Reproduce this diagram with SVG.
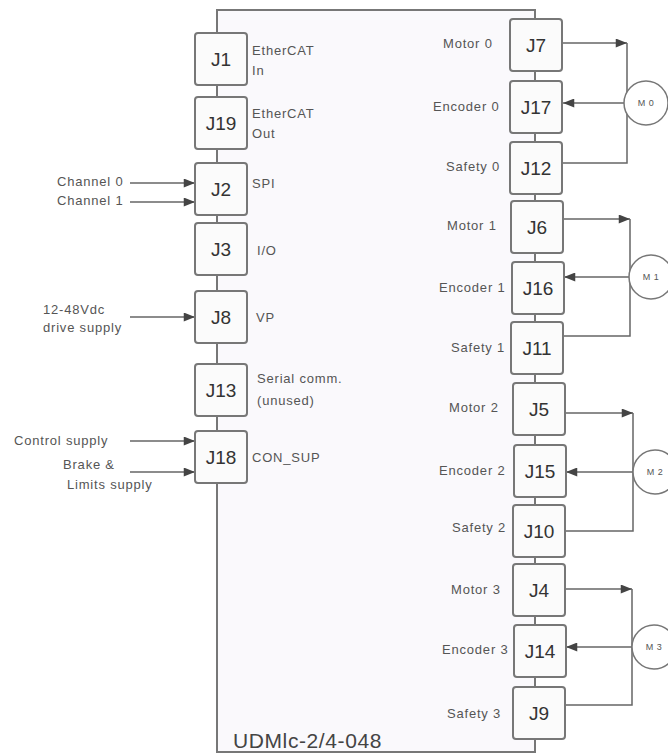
<svg xmlns="http://www.w3.org/2000/svg" width="668" height="755" viewBox="0 0 668 755">
<defs>
<marker id="ah" viewBox="0 0 10 8" refX="10" refY="4" markerWidth="12" markerHeight="9" markerUnits="userSpaceOnUse" orient="auto">
<path d="M0,0 L10,4 L0,8 z" fill="#444"/>
</marker>
<style>
.box{fill:#fbfbfb;stroke:#777;stroke-width:2}
.jt{font-family:"Liberation Sans",Arial,sans-serif;font-size:19px;fill:#333;text-anchor:middle}
.lb{font-family:"Liberation Sans",Arial,sans-serif;font-size:13px;letter-spacing:0.8px;fill:#555}
.mt{font-family:"Liberation Sans",Arial,sans-serif;font-size:9px;letter-spacing:0.5px;fill:#555;text-anchor:middle}
.ln{stroke:#666;stroke-width:1.5;fill:none}
.ar{stroke:#666;stroke-width:1.5;fill:none;marker-end:url(#ah)}
.mc{fill:#fff;stroke:#777;stroke-width:1.5}
</style>
</defs>
<rect width="668" height="755" fill="#fff"/>
<g id="board">
<rect x="217" y="10" width="318" height="742" fill="#faf9fc" stroke="#777" stroke-width="2"/>
<text x="233" y="748" font-family="Liberation Sans, Arial, sans-serif" font-size="21" letter-spacing="0.6" fill="#444">UDMlc-2/4-048</text>
</g>
<g id="connectors">
<line class="ar" x1="130" y1="183" x2="195" y2="183"/>
<line class="ar" x1="130" y1="202" x2="195" y2="202"/>
<line class="ar" x1="130" y1="317" x2="195" y2="317"/>
<line class="ar" x1="130" y1="441" x2="195" y2="441"/>
<line class="ar" x1="130" y1="472" x2="195" y2="472"/>
<line class="ar" x1="562" y1="43" x2="627" y2="43"/>
<line class="ar" x1="627" y1="103" x2="563" y2="103"/>
<polyline class="ln" points="562,163 627,163 627,43"/>
<line class="ar" x1="563" y1="219" x2="630" y2="219"/>
<line class="ar" x1="630" y1="277" x2="564" y2="277"/>
<polyline class="ln" points="563,336 630,336 630,219"/>
<line class="ar" x1="565" y1="413" x2="633" y2="413"/>
<line class="ar" x1="633" y1="472" x2="566" y2="472"/>
<polyline class="ln" points="565,531 633,531 633,413"/>
<line class="ar" x1="565" y1="589" x2="632" y2="589"/>
<line class="ar" x1="632" y1="647" x2="566" y2="647"/>
<polyline class="ln" points="565,705 632,705 632,589"/>
</g>
<g id="inputs-text">
<text class="lb" x="57" y="186">Channel 0</text>
<text class="lb" x="57" y="205">Channel 1</text>
<text class="lb" x="43" y="314">12-48Vdc</text>
<text class="lb" x="43" y="332">drive supply</text>
<text class="lb" x="14" y="445">Control supply</text>
<text class="lb" x="63" y="469">Brake &amp;</text>
<text class="lb" x="67" y="489">Limits supply</text>
</g>
<g id="J1"><rect class="box" x="195" y="33" width="52" height="52" rx="3"/><text class="jt" x="221" y="66">J1</text><text class="lb" x="252" y="55">EtherCAT</text><text class="lb" x="252" y="75">In</text></g>
<g id="J19"><rect class="box" x="195" y="97" width="52" height="52" rx="3"/><text class="jt" x="221" y="130">J19</text><text class="lb" x="252" y="118">EtherCAT</text><text class="lb" x="252" y="138">Out</text></g>
<g id="J2"><rect class="box" x="195" y="163" width="52" height="52" rx="3"/><text class="jt" x="221" y="196">J2</text><text class="lb" x="252" y="188">SPI</text></g>
<g id="J3"><rect class="box" x="195" y="223" width="52" height="52" rx="3"/><text class="jt" x="221" y="256">J3</text><text class="lb" x="257" y="255">I/O</text></g>
<g id="J8"><rect class="box" x="195" y="291" width="52" height="52" rx="3"/><text class="jt" x="221" y="324">J8</text><text class="lb" x="256" y="322">VP</text></g>
<g id="J13"><rect class="box" x="195" y="364" width="52" height="52" rx="3"/><text class="jt" x="221" y="397">J13</text><text class="lb" x="257" y="383">Serial comm.</text><text class="lb" x="257" y="405">(unused)</text></g>
<g id="J18"><rect class="box" x="195" y="431" width="52" height="52" rx="3"/><text class="jt" x="221" y="464">J18</text><text class="lb" x="252" y="462">CON_SUP</text></g>
<g id="J7"><rect class="box" x="510" y="19" width="52" height="52" rx="3"/><text class="jt" x="536" y="52">J7</text><text class="lb" x="443" y="48">Motor 0</text></g>
<g id="J17"><rect class="box" x="510" y="81" width="52" height="52" rx="3"/><text class="jt" x="536" y="114">J17</text><text class="lb" x="433" y="111">Encoder 0</text></g>
<g id="J12"><rect class="box" x="510" y="142" width="52" height="52" rx="3"/><text class="jt" x="536" y="175">J12</text><text class="lb" x="446" y="171">Safety 0</text></g>
<g id="J6"><rect class="box" x="511" y="201" width="52" height="52" rx="3"/><text class="jt" x="537" y="234">J6</text><text class="lb" x="447" y="230">Motor 1</text></g>
<g id="J16"><rect class="box" x="512" y="262" width="52" height="52" rx="3"/><text class="jt" x="538" y="295">J16</text><text class="lb" x="439" y="292">Encoder 1</text></g>
<g id="J11"><rect class="box" x="511" y="322" width="52" height="52" rx="3"/><text class="jt" x="537" y="355">J11</text><text class="lb" x="451" y="352">Safety 1</text></g>
<g id="J5"><rect class="box" x="513" y="383" width="52" height="52" rx="3"/><text class="jt" x="539" y="416">J5</text><text class="lb" x="449" y="412">Motor 2</text></g>
<g id="J15"><rect class="box" x="514" y="445" width="52" height="52" rx="3"/><text class="jt" x="540" y="478">J15</text><text class="lb" x="439" y="475">Encoder 2</text></g>
<g id="J10"><rect class="box" x="513" y="505" width="52" height="52" rx="3"/><text class="jt" x="539" y="538">J10</text><text class="lb" x="452" y="532">Safety 2</text></g>
<g id="J4"><rect class="box" x="513" y="564" width="52" height="52" rx="3"/><text class="jt" x="539" y="597">J4</text><text class="lb" x="451" y="594">Motor 3</text></g>
<g id="J14"><rect class="box" x="514" y="625" width="52" height="52" rx="3"/><text class="jt" x="540" y="658">J14</text><text class="lb" x="442" y="654">Encoder 3</text></g>
<g id="J9"><rect class="box" x="513" y="687" width="52" height="52" rx="3"/><text class="jt" x="539" y="720">J9</text><text class="lb" x="447" y="718">Safety 3</text></g>
<g id="M0"><circle class="mc" cx="646" cy="103" r="22"/><text class="mt" x="646" y="106">M 0</text></g>
<g id="M1"><circle class="mc" cx="651" cy="277" r="22"/><text class="mt" x="651" y="280">M 1</text></g>
<g id="M2"><circle class="mc" cx="655" cy="472" r="22"/><text class="mt" x="655" y="475">M 2</text></g>
<g id="M3"><circle class="mc" cx="654" cy="647" r="22"/><text class="mt" x="654" y="650">M 3</text></g>
</svg>
